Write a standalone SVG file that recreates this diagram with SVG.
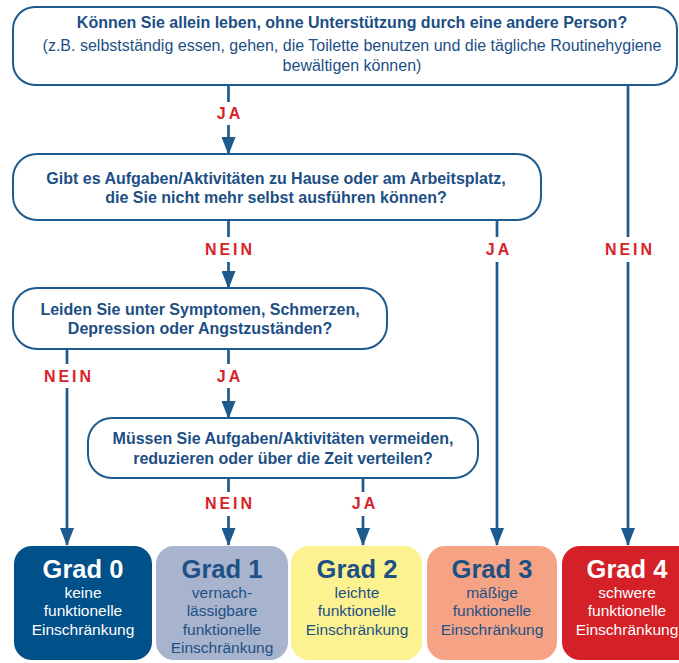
<svg xmlns="http://www.w3.org/2000/svg" width="679" height="663" viewBox="0 0 679 663">
<defs>
<marker id="ah" viewBox="0 0 18 14" refX="17" refY="7" markerWidth="18" markerHeight="14" markerUnits="userSpaceOnUse" orient="auto">
<path d="M0,0 L18,7 L0,14 Z" fill="#1d5a8e"/>
</marker>
<style>
text{font-family:"Liberation Sans",Arial,sans-serif;text-anchor:middle}
.q{fill:#fff;stroke:#1d5a8e;stroke-width:2}
.qt{font-size:16px;font-weight:bold;fill:#1d4f85}
.qn{font-size:16px;fill:#1d4f85}
.lbl{font-size:16px;font-weight:bold;fill:#d8232a;letter-spacing:3px}
.ln{fill:none;stroke:#1d5a8e;stroke-width:2.7}
.gt{font-size:25.5px;font-weight:bold}
.gs{font-size:15.5px}
.dk{fill:#1d5186}
.wh{fill:#fff}
</style>
</defs>
<rect width="679" height="663" fill="#fff"/>
<g id="connectors">
<line class="ln" x1="228.5" y1="86" x2="228.5" y2="102"/>
<line class="ln" x1="228.5" y1="125" x2="228.5" y2="154" marker-end="url(#ah)"/>
<line class="ln" x1="628" y1="86" x2="628" y2="237"/>
<line class="ln" x1="628" y1="262" x2="628" y2="545" marker-end="url(#ah)"/>
<line class="ln" x1="228.5" y1="220" x2="228.5" y2="237"/>
<line class="ln" x1="228.5" y1="262" x2="228.5" y2="288" marker-end="url(#ah)"/>
<line class="ln" x1="497" y1="220" x2="497" y2="237"/>
<line class="ln" x1="497" y1="262" x2="497" y2="545" marker-end="url(#ah)"/>
<line class="ln" x1="67" y1="349" x2="67" y2="364"/>
<line class="ln" x1="67" y1="388" x2="67" y2="545" marker-end="url(#ah)"/>
<line class="ln" x1="228.5" y1="349" x2="228.5" y2="364"/>
<line class="ln" x1="228.5" y1="388" x2="228.5" y2="418" marker-end="url(#ah)"/>
<line class="ln" x1="228.5" y1="478" x2="228.5" y2="492"/>
<line class="ln" x1="228.5" y1="516" x2="228.5" y2="545" marker-end="url(#ah)"/>
<line class="ln" x1="363" y1="478" x2="363" y2="492"/>
<line class="ln" x1="363" y1="516" x2="363" y2="545" marker-end="url(#ah)"/>
<text class="lbl" x="230" y="119">JA</text>
<text class="lbl" x="230" y="255">NEIN</text>
<text class="lbl" x="499" y="255">JA</text>
<text class="lbl" x="630" y="255">NEIN</text>
<text class="lbl" x="69" y="382">NEIN</text>
<text class="lbl" x="230" y="382">JA</text>
<text class="lbl" x="230" y="509">NEIN</text>
<text class="lbl" x="365" y="509">JA</text>
</g>
<g id="q1">
<rect class="q" x="13" y="7" width="664" height="78" rx="22"/>
<text class="qt" x="352" y="28">Können Sie allein leben, ohne Unterstützung durch eine andere Person?</text>
<text class="qn" x="352" y="51">(z.B. selbstständig essen, gehen, die Toilette benutzen und die tägliche Routinehygiene</text>
<text class="qn" x="352" y="71">bewältigen können)</text>
</g>
<g id="q2">
<rect class="q" x="13" y="154" width="528" height="66" rx="24"/>
<text class="qt" x="276" y="184">Gibt es Aufgaben/Aktivitäten zu Hause oder am Arbeitsplatz,</text>
<text class="qt" x="276" y="203">die Sie nicht mehr selbst ausführen können?</text>
</g>
<g id="q3">
<rect class="q" x="13" y="288" width="374" height="61" rx="24"/>
<text class="qt" x="200" y="315">Leiden Sie unter Symptomen, Schmerzen,</text>
<text class="qt" x="200" y="334">Depression oder Angstzuständen?</text>
</g>
<g id="q4">
<rect class="q" x="88" y="418" width="390" height="60" rx="24"/>
<text class="qt" x="283" y="444">Müssen Sie Aufgaben/Aktivitäten vermeiden,</text>
<text class="qt" x="283" y="464">reduzieren oder über die Zeit verteilen?</text>
</g>
<g id="grad0">
<rect x="14" y="546" width="138" height="114" rx="18" fill="#00508a"/>
<text class="gt wh" x="83" y="578">Grad 0</text>
<text class="gs wh" x="83" y="597.5">keine</text>
<text class="gs wh" x="83" y="616">funktionelle</text>
<text class="gs wh" x="83" y="634.5">Einschränkung</text>
</g>
<g id="grad1">
<rect x="156" y="546" width="132" height="114" rx="18" fill="#a8b3cd"/>
<text class="gt dk" x="222" y="578">Grad 1</text>
<text class="gs dk" x="222" y="597.5">vernach-</text>
<text class="gs dk" x="222" y="616">lässigbare</text>
<text class="gs dk" x="222" y="634.5">funktionelle</text>
<text class="gs dk" x="222" y="653">Einschränkung</text>
</g>
<g id="grad2">
<rect x="291" y="546" width="131" height="114" rx="18" fill="#fcf28f"/>
<text class="gt dk" x="357" y="578">Grad 2</text>
<text class="gs dk" x="357" y="597.5">leichte</text>
<text class="gs dk" x="357" y="616">funktionelle</text>
<text class="gs dk" x="357" y="634.5">Einschränkung</text>
</g>
<g id="grad3">
<rect x="427" y="546" width="130" height="114" rx="18" fill="#f5a384"/>
<text class="gt dk" x="492" y="578">Grad 3</text>
<text class="gs dk" x="492" y="597.5">mäßige</text>
<text class="gs dk" x="492" y="616">funktionelle</text>
<text class="gs dk" x="492" y="634.5">Einschränkung</text>
</g>
<g id="grad4">
<rect x="562" y="546" width="136" height="114" rx="18" fill="#d42027"/>
<text class="gt wh" x="627" y="578">Grad 4</text>
<text class="gs wh" x="627" y="597.5">schwere</text>
<text class="gs wh" x="627" y="616">funktionelle</text>
<text class="gs wh" x="627" y="634.5">Einschränkung</text>
</g>
</svg>
